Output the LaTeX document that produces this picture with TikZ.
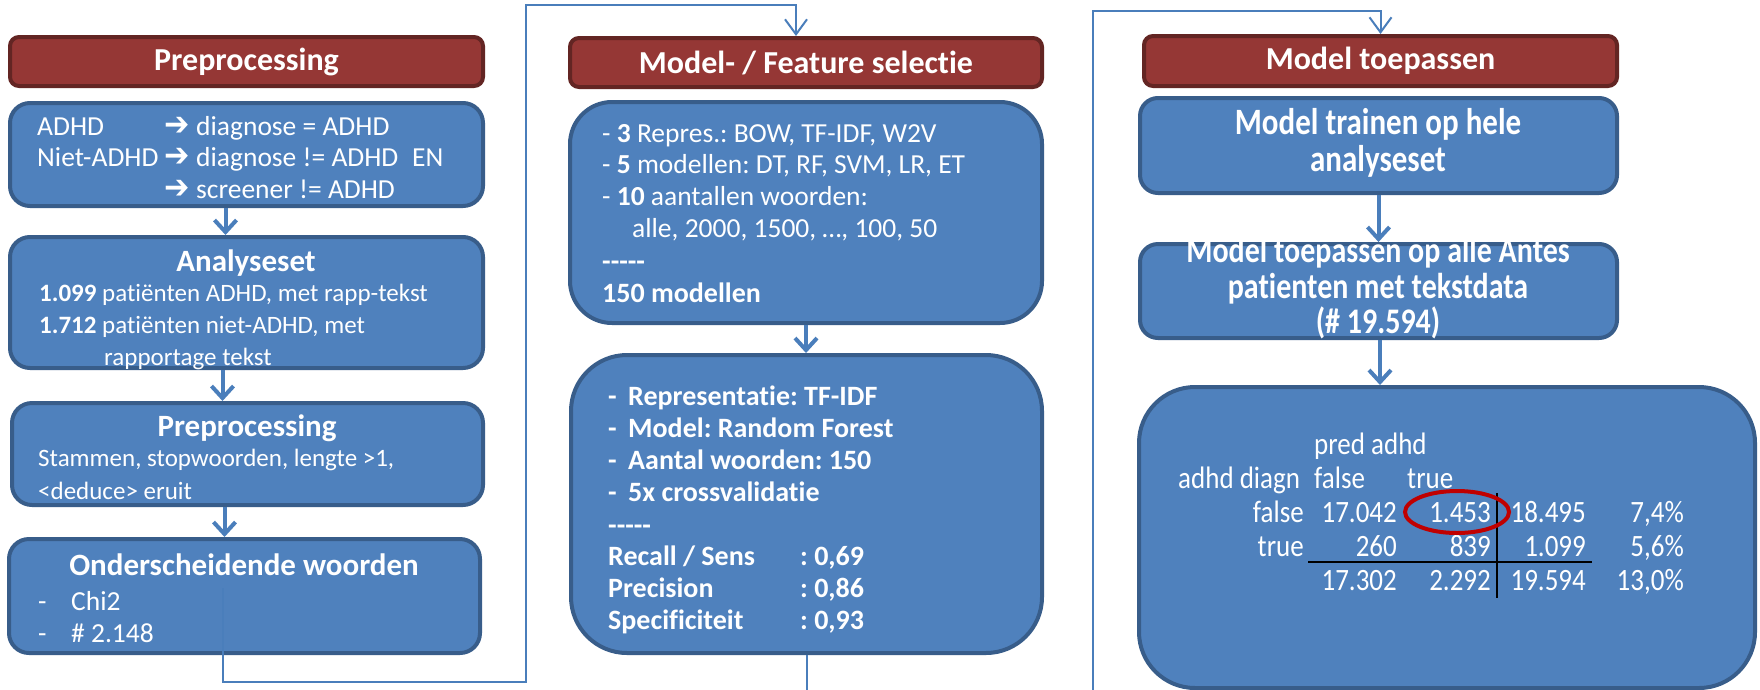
\documentclass[tikz,border=0pt]{standalone}
\usepackage{fontspec}
\setmainfont{Carlito}[Ligatures={NoCommon}, RawFeature={-liga;-clig;-dlig;-calt}]
\newfontfamily\djv{DejaVu Sans}
\usetikzlibrary{arrows.meta,calc}
\definecolor{boxfill}{HTML}{4F81BD}
\definecolor{boxborder}{HTML}{385D8A}
\definecolor{hdrfill}{HTML}{953735}
\definecolor{hdrborder}{HTML}{632523}
\definecolor{flowblue}{HTML}{4A7EBB}
\definecolor{ovalred}{HTML}{C00000}
\frenchspacing
\newcommand\fivedash{-\kern0pt-\kern0pt-\kern0pt-\kern0pt-}
\newcommand\rarr{\scalebox{1.1}[1.2]{\djv\bfseries ➔}}
\newcommand\vst[1]{\scalebox{1}[1.2]{#1}}
\newcommand\vtb[1]{\scalebox{1}[1.15]{#1}}
\tikzset{
  hdr/.style={draw=hdrborder, line width=4pt, fill=hdrfill, rounded corners=9pt,
    text=white, font=\bfseries\fontsize{32}{38}\selectfont, inner sep=0pt},
  box/.style={draw=boxborder, line width=4pt, fill=boxfill, rounded corners=#1, inner sep=0pt},
  box/.default=20pt,
  tx/.style={text=white, inner sep=0pt, font=\fontsize{25}{30}\selectfont, anchor=mid west},
  tl/.style={text=white, inner sep=0pt, font=\fontsize{27.5}{32}\selectfont, anchor=mid west},
  tb/.style={text=white, inner sep=0pt, font=\bfseries\fontsize{28}{32}\selectfont, anchor=mid west},
  ttl/.style={text=white, inner sep=0pt, font=\bfseries\fontsize{31}{36}\selectfont, anchor=mid},
  tab/.style={text=white, inner sep=0pt, font=\fontsize{27}{32}\selectfont},
  flow/.style={draw=flowblue, line width=4pt, -{Straight Barb[length=12pt,width=22pt]}},
  link/.style={draw=flowblue, line width=2pt, -{Straight Barb[length=15pt,width=22pt]}},
}
\begin{document}
\frenchspacing
\begin{tikzpicture}[x=1pt,y=-1pt]
\useasboundingbox (0,0) rectangle (1760,689);
\clip (0,0) rectangle (1760,689);
\fill[white] (0,0) rectangle (1760,689);

% ---------- column 1
\node[hdr, minimum width=473pt, minimum height=49pt] (h1) at (246.5,61.5) {Preprocessing};
\node[box, minimum width=473pt, minimum height=103pt] (b1) at (246.5,154.5) {};
\node[box, minimum width=473pt, minimum height=131pt] (b2) at (246.5,302.5) {};
\node[box, minimum width=471pt, minimum height=102pt] (b3) at (247.5,454) {};
\node[box, minimum width=471pt, minimum height=114pt] (b4) at (244.5,596) {};

\node[tl] (a1) at (37,133) {ADHD};
\node[tl] (a2) at (164,133) {\rarr};
\node[tl] (a3) at (196,133) {diagnose = ADHD};
\node[tl] (a4) at (37,164) {Niet-ADHD};
\node[tl] (a5) at (164,164) {\rarr};
\node[tl] (a6) at (196,164) {diagnose != ADHD};
\node[tl] (a7) at (412,164) {EN};
\node[tl] (a8) at (164,196) {\rarr};
\node[tl] (a9) at (196,196) {screener != ADHD};

\node[ttl] (s1) at (246,269) {Analyseset};
\node[tx] (s2) at (39,299) {\textbf{1.099} patiënten ADHD, met rapp-tekst};
\node[tx] (s3) at (39,331) {\textbf{1.712} patiënten niet-ADHD, met};
\node[tx] (s4) at (104,363) {rapportage tekst};

\node[ttl] (p1) at (247,434) {Preprocessing};
\node[tx] (p2) at (38,464) {Stammen, stopwoorden, lengte >1,};
\node[tx] (p3) at (38,497) {<deduce> eruit};

\node[ttl] (o1) at (244,573) {Onderscheidende woorden};
\node[tl] (o2) at (38,608) {-};
\node[tl] (o3) at (71,608) {Chi2};
\node[tl] (o4) at (38,640) {-};
\node[tl] (o5) at (71,640) {\# 2.148};

\draw[flow] ([xshift=-21pt]b1.south) -- ([xshift=-21pt]b1.south |- b2.north);
\draw[flow] ([xshift=-24pt]b2.south) -- ([xshift=-24pt]b2.south |- b3.north);
\draw[flow] ([xshift=-23pt]b3.south) -- ([xshift=-23pt]b3.south |- b4.north);

% ---------- column 2
\node[hdr, minimum width=472pt, minimum height=49pt] (h2) at (806,62.5) {Model- / Feature selectie};
\node[box=42pt, minimum width=472pt, minimum height=221pt] (b5) at (806,212.5) {};
\node[box=56pt, minimum width=471pt, minimum height=298pt] (b6) at (806.5,504) {};

\node[tl] (m1) at (602,140) {- \textbf{3} Repres.: BOW, TF-IDF, W2V};
\node[tl] (m2) at (602,171) {- \textbf{5} modellen: DT, RF, SVM, LR, ET};
\node[tl] (m3) at (602,203) {- \textbf{10} aantallen woorden:};
\node[tl] (m4) at (632,235) {alle, 2000, 1500, …, 100, 50};
\node[tb] (m5) at (602,268) {\fivedash};
\node[tb] (m6) at (602,300) {150 modellen};

\node[tb] (r1) at (608,403) {-};
\node[tb] (r2) at (628,403) {Representatie: TF-IDF};
\node[tb] (r3) at (608,435) {-};
\node[tb] (r4) at (628,435) {Model: Random Forest};
\node[tb] (r5) at (608,467) {-};
\node[tb] (r6) at (628,467) {Aantal woorden: 150};
\node[tb] (r7) at (608,499) {-};
\node[tb] (r8) at (628,499) {5x crossvalidatie};
\node[tb] (r9) at (608,532) {\fivedash};
\node[tb] (r10) at (608,563) {Recall / Sens};
\node[tb] (r11) at (800,563) {: 0,69};
\node[tb] (r12) at (608,595) {Precision};
\node[tb] (r13) at (800,595) {: 0,86};
\node[tb] (r14) at (608,627) {Specificiteit};
\node[tb] (r15) at (800,627) {: 0,93};

\draw[flow] (b5.south) -- (b5.south |- b6.north);

% ---------- column 3
\node[hdr, minimum width=473pt, minimum height=50pt] (h3) at (1380.5,61) {Model toepassen};
\node[box=18pt, minimum width=477pt, minimum height=95pt] (b7) at (1378.5,145.5) {};
\node[box=18pt, minimum width=477pt, minimum height=94pt] (b8) at (1378.5,291) {};
\node[box=56pt, minimum width=616pt, minimum height=301pt] (b9) at (1447,537.5) {};

\node[ttl] (q1) at (1378,132) {\vst{Model trainen op hele}};
\node[ttl] (q2) at (1378,169) {\vst{analyseset}};
\node[ttl, font=\bfseries\fontsize{30}{36}\selectfont] (q3) at (1378,260) {\vst{Model toepassen op alle Antes}};
\node[ttl, font=\bfseries\fontsize{30}{36}\selectfont] (q4) at (1378,296) {\vst{patienten met tekstdata}};
\node[ttl, font=\bfseries\fontsize{30}{36}\selectfont] (q5) at (1378,331) {\vst{(\# 19.594)}};

\draw[flow] (b7.south) -- (b7.south |- b8.north);
\draw[flow] ([xshift=1.5pt]b8.south) -- ([xshift=1.5pt]b8.south |- b9.north);

% confusion table
\node[tab, anchor=mid west] (k1) at (1314,452) {\vtb{pred adhd}};
\node[tab, anchor=mid west] (k2) at (1178,486) {\vtb{adhd diagn}};
\node[tab, anchor=mid west] (k3) at (1314,486) {\vtb{false}};
\node[tab, anchor=mid west] (k4) at (1407,486) {\vtb{true}};
\node[tab, anchor=mid east] (k5) at (1304,520) {\vtb{false}};
\node[tab, anchor=mid east] (k6) at (1397,520) {\vtb{17.042}};
\node[tab, anchor=mid east] (k7) at (1491,520) {\vtb{1.453}};
\node[tab, anchor=mid east] (k8) at (1586,520) {\vtb{18.495}};
\node[tab, anchor=mid east] (k9) at (1684,520) {\vtb{7,4\%}};
\node[tab, anchor=mid east] (k10) at (1304,554) {\vtb{true}};
\node[tab, anchor=mid east] (k11) at (1397,554) {\vtb{260}};
\node[tab, anchor=mid east] (k12) at (1491,554) {\vtb{839}};
\node[tab, anchor=mid east] (k13) at (1586,554) {\vtb{1.099}};
\node[tab, anchor=mid east] (k14) at (1684,554) {\vtb{5,6\%}};
\node[tab, anchor=mid east] (k15) at (1397,588) {\vtb{17.302}};
\node[tab, anchor=mid east] (k16) at (1491,588) {\vtb{2.292}};
\node[tab, anchor=mid east] (k17) at (1586,588) {\vtb{19.594}};
\node[tab, anchor=mid east] (k18) at (1684,588) {\vtb{13,0\%}};
\draw[black, line width=2pt] (1308,562) -- (1592,562);
\draw[black, line width=1.6pt] (1497,493) -- (1497,598);
\draw[ovalred, line width=4pt] (1457,512) ellipse [x radius=52pt, y radius=21pt];

% ---------- long connectors
\coordinate (c1) at (526,682);
\coordinate (c2) at (526,5);
\draw[link] ([xshift=-22pt,yshift=8pt]b4.center) |- (c1) -- (c2) -| ([xshift=-10pt]h2.north);
\coordinate (c3) at (1093,720);
\coordinate (c4) at (1093,11);
\draw[link] (b6.south) |- (c3) -- (c4) -| (h3.north);
\end{tikzpicture}
\end{document}
